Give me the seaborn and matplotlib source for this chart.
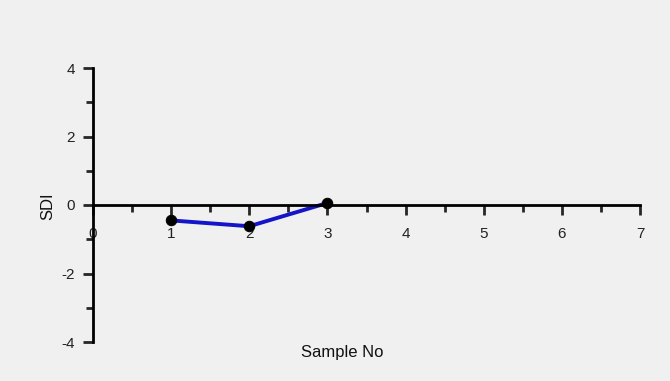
import numpy as np
import pandas as pd
import seaborn as sns
import matplotlib.pyplot as plt
from matplotlib.ticker import MultipleLocator

sample_no = [1, 2, 3]
sdi = [-0.45, -0.62, 0.06]

sns.set_style('white')
plt.rcParams['font.family'] = ['Liberation Sans', 'DejaVu Sans']
plt.rcParams['axes.unicode_minus'] = False

df = pd.DataFrame({'Sample No': sample_no, 'SDI': sdi})

fig = plt.figure(figsize=(6.7, 3.81), dpi=100, facecolor='#f0f0f0')
ax = fig.add_axes([93 / 670, 1 - 342 / 381, (640 - 93) / 670, (342 - 68) / 381])
ax.set_facecolor('#f0f0f0')

sns.lineplot(x='Sample No', y='SDI', data=df, ax=ax, color='#1414c8', linewidth=2.8,
             marker='o', markersize=7.5, markerfacecolor='black', markeredgecolor='black')

ax.set_xlim(0, 7)
ax.set_ylim(-4, 4)
ax.spines['left'].set_position(('data', 0))
ax.spines['bottom'].set_position(('data', 0))
ax.spines['right'].set_visible(False)
ax.spines['top'].set_visible(False)
for s in ['left', 'bottom']:
    ax.spines[s].set_color('black')
    ax.spines[s].set_linewidth(2)

ax.xaxis.set_major_locator(MultipleLocator(1))
ax.xaxis.set_minor_locator(MultipleLocator(0.5))
ax.yaxis.set_major_locator(MultipleLocator(2))
ax.yaxis.set_minor_locator(MultipleLocator(1))
ax.tick_params(axis='x', which='major', direction='out', length=7, width=2, pad=9,
               labelsize=11, bottom=True, labelcolor='#222222')
ax.tick_params(axis='x', which='minor', direction='out', length=5, width=2, bottom=True)
ax.tick_params(axis='y', which='major', direction='out', length=7, width=2, pad=6,
               labelsize=11, left=True, labelcolor='#222222')
ax.tick_params(axis='y', which='minor', direction='out', length=5, width=2, left=True)

ax.set_xlabel('')
ax.set_ylabel('')
fig.text(342 / 670, 1 - 353 / 381, 'Sample No', ha='center', va='center', fontsize=12,
         color='#111111')
fig.text(48 / 670, 1 - 206 / 381, 'SDI', ha='center', va='center', rotation=90, fontsize=12,
         color='#111111')

plt.savefig('out.png', dpi=100, facecolor='#f0f0f0')
